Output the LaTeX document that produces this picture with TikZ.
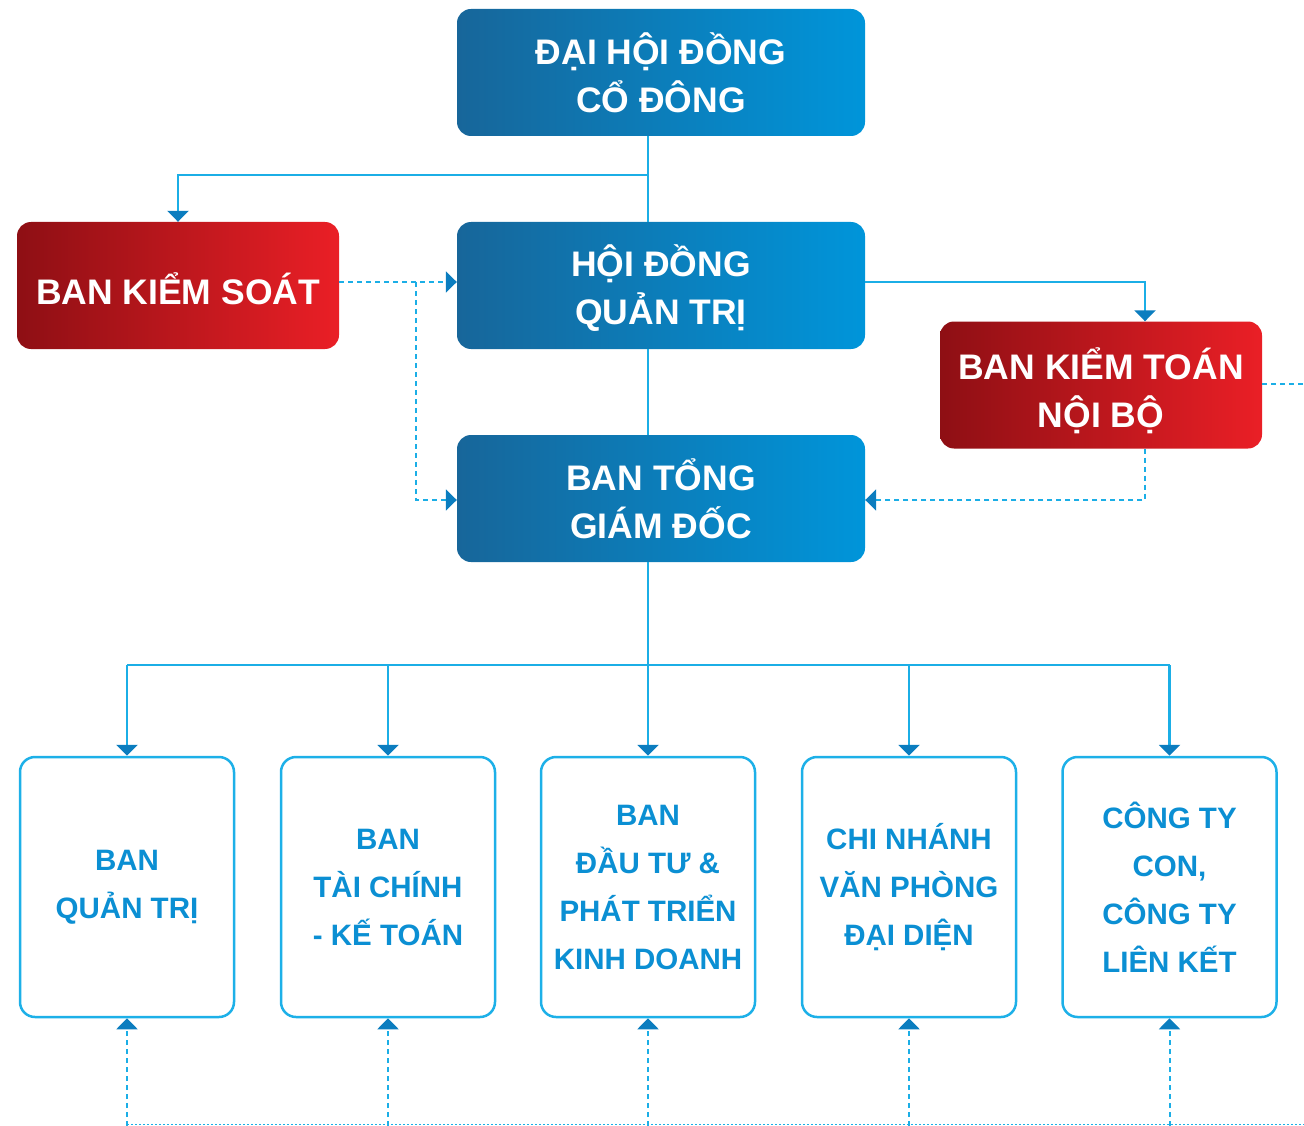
\documentclass[tikz,border=0pt]{standalone}
\usepackage{fontspec}
\setmainfont{Liberation Sans}
\usetikzlibrary{arrows.meta}
\definecolor{lineblue}{HTML}{1BAEE6}
\definecolor{tipblue}{HTML}{0B7DBF}
\definecolor{bluedark}{HTML}{17669A}
\definecolor{bluelight}{HTML}{0095DA}
\definecolor{reddark}{HTML}{8E0F14}
\definecolor{redlight}{HTML}{EA1F26}
\definecolor{textblue}{HTML}{0B8FD3}
\definecolor{boxborder}{HTML}{1DB0E8}
\begin{document}
\begin{tikzpicture}[x=1pt,y=-1pt,
  bluebox/.style={rectangle, rounded corners=14pt, left color=bluedark, right color=bluelight, draw=none,
    minimum width=408pt, minimum height=127pt, align=center, text=white,
    font=\fontsize{35.5}{48}\selectfont\bfseries, inner sep=0pt},
  redbox/.style={rectangle, rounded corners=14pt, left color=reddark, right color=redlight, draw=none,
    minimum width=322pt, minimum height=127pt, align=center, text=white,
    font=\fontsize{35.5}{48}\selectfont\bfseries, inner sep=0pt},
  redtext/.style={align=center, text=white, font=\fontsize{35.5}{48}\selectfont\bfseries, inner sep=0pt},
  unitbox/.style={rectangle, rounded corners=15pt, draw=boxborder, line width=2.5pt, fill=white,
    minimum width=214pt, minimum height=260pt, align=center, text=textblue,
    font=\fontsize{29.5}{48}\selectfont\bfseries, inner sep=0pt},
  conn/.style={draw=lineblue, line width=2.2pt},
  dconn/.style={draw=lineblue, line width=2pt, dash pattern=on 5pt off 4pt},
  tipend/.style={-{Triangle[width=21pt,length=11pt,color=tipblue]}}
]
\useasboundingbox (0,0) rectangle (1304,1126);

% main boxes
\node[bluebox] (dhcd) at (661,72.5) {ĐẠI HỘI ĐỒNG\\CỔ ĐÔNG};
\node[redbox] (bks) at (178,285.5) {};
\node[redtext] (bkstext) at (178,288.5) {BAN KIỂM SOÁT};
\node[bluebox] (hdqt) at (661,285.5) {};
\node[redtext] (hdqttext) at (661,288.5) {HỘI ĐỒNG\\QUẢN TRỊ};
\node[redbox] (bktnb) at (1101,385) {};
\node[redtext] (bktnbtext) at (1101,391) {BAN KIỂM TOÁN\\NỘI BỘ};
\node[bluebox] (tgd) at (661,498.5) {BAN TỔNG\\GIÁM ĐỐC};

% bottom units
\node[unitbox] (u1) at (127,887) {BAN\\QUẢN TRỊ};
\node[unitbox] (u2) at (388,887) {BAN\\TÀI CHÍNH\\- KẾ TOÁN};
\node[unitbox] (u3) at (648,887) {BAN\\ĐẦU TƯ \&\\PHÁT TRIỂN\\KINH DOANH};
\node[unitbox] (u4) at (909,887) {CHI NHÁNH\\VĂN PHÒNG\\ĐẠI DIỆN};
\node[unitbox] (u5) at (1169.5,887) {CÔNG TY\\CON,\\CÔNG TY\\LIÊN KẾT};

% helper coordinates
\coordinate (sx) at (648,0);
\coordinate (kx) at (1145,0);
\coordinate (br) at (648,175);
\coordinate (hy) at (0,282);
\coordinate (dj) at (416,282);
\coordinate (ty) at (0,500);
\coordinate (bus) at (648,665);
\coordinate (bot) at (0,1126);
\coordinate (botline) at (0,1124);
\coordinate (redge) at (1304,384);
\coordinate (rend) at (1304,1124);

% solid connectors
\draw[conn] (dhcd.south -| sx) -- (hdqt.north -| sx);
\draw[conn,tipend] (br) -| (bks.north);
\draw[conn,tipend] (hdqt.east |- hy) -| (kx |- bktnb.north);
\draw[conn] (hdqt.south -| sx) -- (tgd.north -| sx);
\draw[conn,tipend] (tgd.south -| sx) -- (u3.north);
\draw[conn] (u1.north |- bus) -- (u5.north |- bus);
\foreach \u in {u1,u2,u4,u5}{
  \draw[conn,tipend] (\u.north |- bus) -- (\u.north);
}

% dashed connectors
\draw[dconn,tipend] (bks.east |- hy) -- (hdqt.west |- hy);
\draw[dconn,tipend] (dj) |- (tgd.west |- ty);
\draw[dconn,tipend] (kx |- bktnb.south) |- (tgd.east |- ty);
\draw[dconn] (bktnb.east |- redge) -- (redge);
\foreach \u in {u1,u2,u3,u4,u5}{
  \draw[dconn,tipend] (\u.south |- bot) -- (\u.south);
}
\draw[draw=lineblue, line width=1pt, dash pattern=on 2pt off 2pt] (u1.south |- botline) -- (rend);
\end{tikzpicture}
\end{document}
